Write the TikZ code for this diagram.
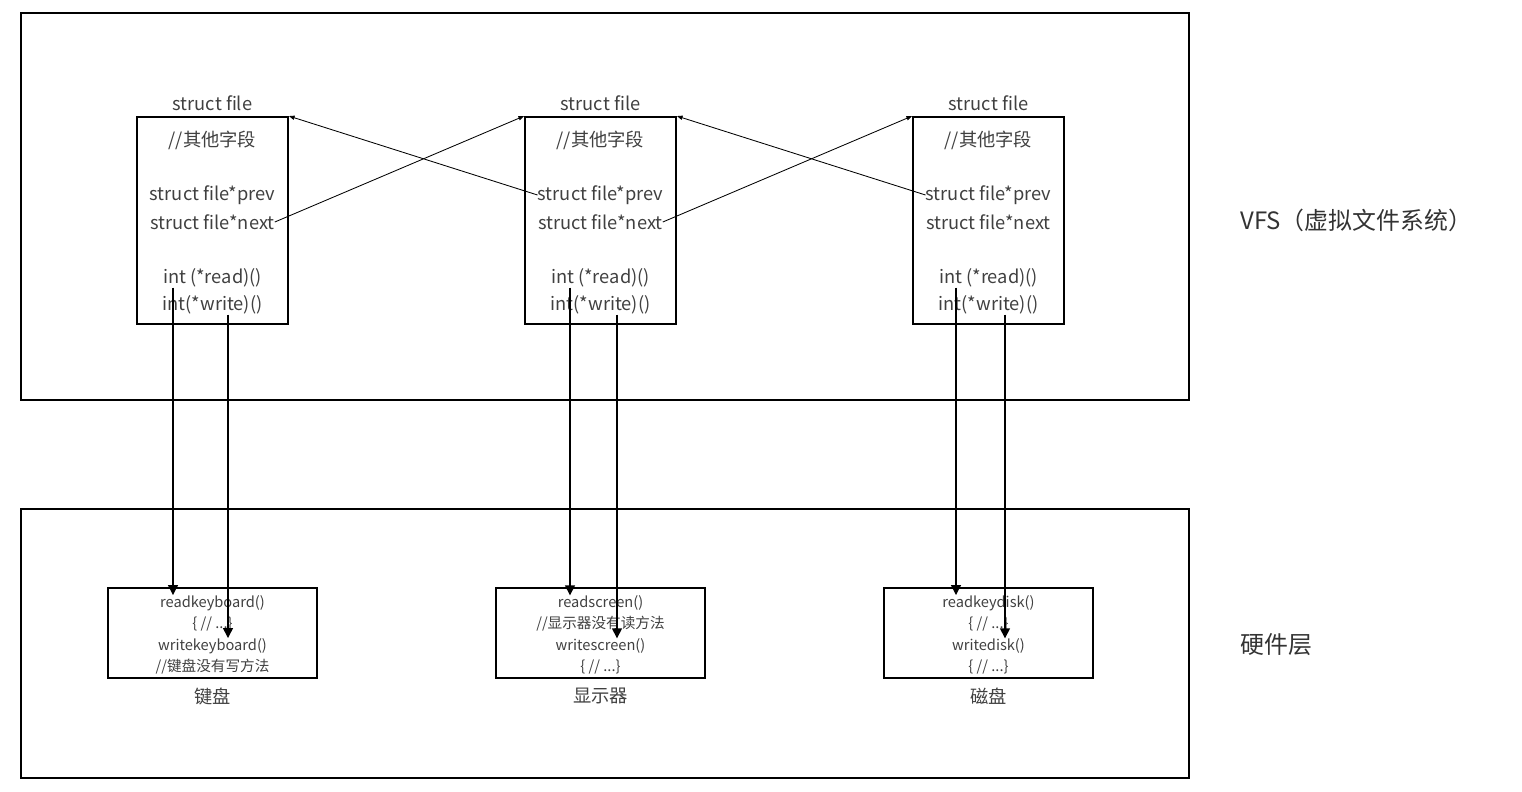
\documentclass[tikz,border=0pt]{standalone}
\usepackage{fontspec}
\setmainfont{Noto Sans CJK SC}
\usetikzlibrary{arrows.meta, positioning, calc}

\begin{document}
\begin{tikzpicture}[x=0.025cm, y=-0.025cm,
    layer/.style={draw, line width=1.3pt, minimum width=29.2cm},
    sfile/.style={draw, line width=1.3pt, minimum width=3.775cm, minimum height=5.175cm},
    hwbox/.style={draw, line width=1.3pt, minimum width=5.225cm, minimum height=2.25cm},
    txt/.style={inner sep=0pt, text=black!75, font=\fontsize{13}{16}\selectfont},
    hwtxt/.style={inner sep=0pt, text=black!75, font=\fontsize{10.4}{13}\selectfont},
    lbl/.style={inner sep=0pt, text=black!80, font=\fontsize{17}{20}\selectfont},
    link/.style={-{Triangle[length=4pt, width=3pt]}, line width=0.6pt},
    call/.style={-{Triangle[length=7pt, width=7pt]}, line width=1pt}]

\useasboundingbox (0,0) rectangle (1522,791);

% Layers
\node[layer, minimum height=9.675cm] (vfs) at (605,206.5) {};
\node[layer, minimum height=6.725cm] (hw) at (605,643.5) {};
\node[lbl, anchor=west] (vfs-lbl) at (1240,220) {VFS（虚拟文件系统）};
\node[lbl, anchor=west] (hw-lbl) at (1240,645) {硬件层};

% struct file blocks and devices
\foreach \i/\x in {1/212.5, 2/600.5, 3/988.5} {
  \node[sfile] (f\i) at (\x,220.5) {};
  \node[txt] (title\i) at (\x,103) {struct file};
  \node[txt] (other\i) at (\x,140) {//其他字段};
  \node[txt] (prev\i) at (\x,195) {struct file*prev};
  \node[txt] (next\i) at (\x,222) {struct file*next};
  \node[txt] (read\i) at (\x,278) {int (*read)()};
  \node[txt] (write\i) at (\x,305) {int(*write)()};
  \node[hwbox] (dev\i) at (\x,633) {};
}

% Device drivers
\node[hwtxt] (dev1-1) at (212.5,603) {readkeyboard()};
\node[hwtxt] (dev1-2) at (212.5,624) {\{ // ...\}};
\node[hwtxt] (dev1-3) at (212.5,646) {writekeyboard()};
\node[hwtxt] (dev1-4) at (212.5,667) {//键盘没有写方法};
\node[txt] (name1) at (212.5,696) {键盘};

\node[hwtxt] (dev2-1) at (600.5,603) {readscreen()};
\node[hwtxt] (dev2-2) at (600.5,624) {//显示器没有读方法};
\node[hwtxt] (dev2-3) at (600.5,646) {writescreen()};
\node[hwtxt] (dev2-4) at (600.5,667) {\{ // ...\}};
\node[txt] (name2) at (600.5,696) {显示器};

\node[hwtxt] (dev3-1) at (988.5,603) {readkeydisk()};
\node[hwtxt] (dev3-2) at (988.5,624) {\{ // ...\}};
\node[hwtxt] (dev3-3) at (988.5,646) {writedisk()};
\node[hwtxt] (dev3-4) at (988.5,667) {\{ // ...\}};
\node[txt] (name3) at (988.5,696) {磁盘};

% prev / next links
\draw[link] (next1.east) -- (f2.north west);
\draw[link] (prev2.west) -- (f1.north east);
\draw[link] (next2.east) -- (f3.north west);
\draw[link] (prev3.west) -- (f2.north east);

% read / write calls
\foreach \i/\r/\w in {1/173/228, 2/570/617, 3/956/1005} {
  \draw[call] (\r,0 |- read\i.south) -- (\r,0 |- dev\i-1.north);
  \draw[call] (\w,0 |- write\i.south) -- (\w,0 |- dev\i-3.north);
}

\end{tikzpicture}
\end{document}
